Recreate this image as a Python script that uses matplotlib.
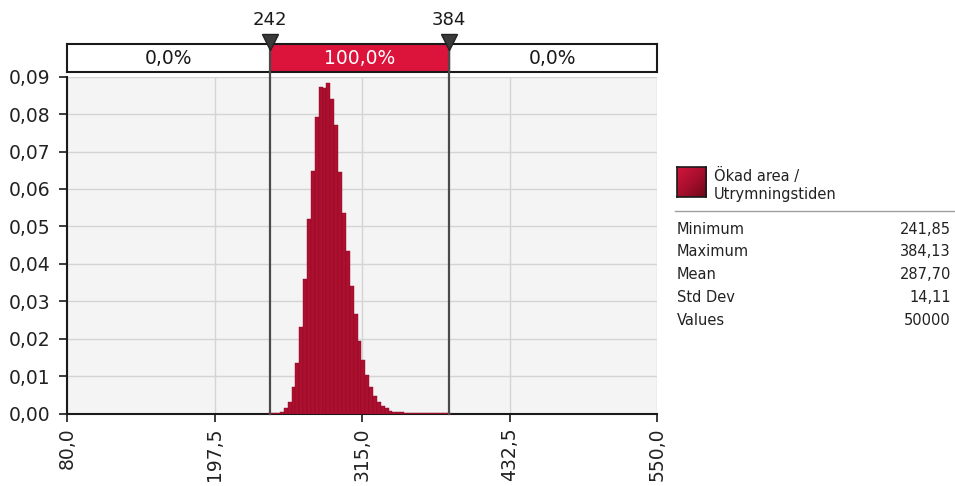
import numpy as np
import matplotlib
matplotlib.use("Agg")
import matplotlib.pyplot as plt
from matplotlib.lines import Line2D
from matplotlib.transforms import blended_transform_factory
from matplotlib.colors import LinearSegmentedColormap

plt.rcParams['font.family'] = ['DejaVu Sans']

# ---- data -------------------------------------------------------------
series_name = "Ökad area /\nUtrymningstiden"
stat_min = 241.85
stat_max = 384.13
stat_names = ["Minimum", "Maximum", "Mean", "Std Dev", "Values"]
stat_values = ["241,85", "384,13", "287,70", "14,11", "50000"]

# probability per bin (bins centred from min to max)
bin_probs = [
    0.00003, 0.0001, 0.0002, 0.0005, 0.0014, 0.0030, 0.0070, 0.0136,
    0.0230, 0.0359, 0.0521, 0.0649, 0.0792, 0.0872, 0.0870, 0.0883,
    0.0841, 0.0771, 0.0645, 0.0536, 0.0433, 0.0340, 0.0266, 0.0195,
    0.0142, 0.0103, 0.0072, 0.0047, 0.0032, 0.0020, 0.0014, 0.0008,
    0.0005, 0.0004, 0.0003, 0.0002, 0.0002, 0.0001, 0.0001, 0.0001,
    0.0001, 0.00005, 0.00005, 0.00003, 0.00003, 0.00002, 0.00002,
]

x_ticks = [80.0, 197.5, 315.0, 432.5, 550.0]
x_tick_labels = ["80,0", "197,5", "315,0", "432,5", "550,0"]
y_ticks = [0.00, 0.01, 0.02, 0.03, 0.04, 0.05, 0.06, 0.07, 0.08, 0.09]
y_tick_labels = ["0,00", "0,01", "0,02", "0,03", "0,04", "0,05",
                 "0,06", "0,07", "0,08", "0,09"]

marker_values = [242, 384]
marker_labels = ["242", "384"]
band_labels = ["0,0%", "100,0%", "0,0%"]

# ---- layout helpers (pixel -> figure fraction) -------------------------
W, H = 955, 486
fig = plt.figure(figsize=(W / 100, H / 100), dpi=100)
fig.patch.set_facecolor("white")


def fx(px):
    return px / W


def fy(py):
    return 1 - py / H


AX_L, AX_R, AX_T, AX_B = 67, 657, 76.7, 413.5
ax = fig.add_axes([fx(AX_L), fy(AX_B), fx(AX_R) - fx(AX_L), fy(AX_T) - fy(AX_B)])
ax.set_facecolor("#f4f4f4")

centers = np.linspace(stat_min, stat_max, len(bin_probs))
bin_w = centers[1] - centers[0]
ax.bar(centers, bin_probs, width=bin_w, color="#ad0f2e",
       edgecolor="#8a0c26", linewidth=0.3, zorder=3)

ax.set_xlim(x_ticks[0], x_ticks[-1])
ax.set_ylim(0, 0.09)
ax.set_xticks(x_ticks)
ax.set_xticklabels(x_tick_labels, rotation=90)
ax.set_yticks(y_ticks)
ax.set_yticklabels(y_tick_labels)
ax.grid(color="#d4d4d4", linewidth=1.0, zorder=0)
ax.set_axisbelow(True)
for s in ["top", "right"]:
    ax.spines[s].set_visible(False)
for s in ["left", "bottom"]:
    ax.spines[s].set_color("#1a1a1a")
    ax.spines[s].set_linewidth(1.5)
ax.tick_params(axis="both", direction="out", length=6, width=1.2,
               colors="#1a1a1a", labelsize=13.5, labelcolor="#222222")
ax.tick_params(axis="y", pad=6)
ax.tick_params(axis="x", pad=4)

# ---- percentage band above the plot -------------------------------------
BAND_T, BAND_B = 44, 72
bax = fig.add_axes([fx(AX_L), fy(BAND_B), fx(AX_R) - fx(AX_L), fy(BAND_T) - fy(BAND_B)])
bax.set_xlim(x_ticks[0], x_ticks[-1])
bax.set_ylim(0, 1)
bax.set_facecolor("white")
bax.axvspan(marker_values[0], marker_values[1], color="#dc143c", zorder=1)
bax.set_xticks([])
bax.set_yticks([])
for s in bax.spines.values():
    s.set_color("#1a1a1a")
    s.set_linewidth(1.5)
edges = [x_ticks[0]] + marker_values + [x_ticks[-1]]
for i, lab in enumerate(band_labels):
    mid = (edges[i] + edges[i + 1]) / 2
    col = "white" if i == 1 else "#1a1a1a"
    bax.text(mid, 0.5, lab, ha="center", va="center", fontsize=13.5, color=col)

# delimiter lines, triangles and their labels
trans = blended_transform_factory(ax.transData, fig.transFigure)
for v, lab in zip(marker_values, marker_labels):
    fig.add_artist(Line2D([v, v], [fy(AX_B), fy(BAND_T)], transform=trans,
                          color="#4a4a4a", linewidth=1.6, zorder=5))
    fig.add_artist(Line2D([v], [fy(42)], transform=trans, marker="v",
                          markersize=12, color="#3a3a3a",
                          markeredgecolor="#222222", zorder=6))
    fig.text(v, fy(20), lab, transform=trans, ha="center", va="center",
             fontsize=13, color="#1a1a1a")

# ---- legend and statistics ---------------------------------------------
sax = fig.add_axes([fx(677), fy(197), fx(706) - fx(677), fy(167) - fy(197)])
grad = np.add.outer(np.linspace(0, 1, 60), np.linspace(0, 1, 60))
cmap = LinearSegmentedColormap.from_list("swatch", ["#d2163c", "#a80f2d", "#6a0818"])
sax.imshow(grad, cmap=cmap, aspect="auto")
sax.set_xticks([])
sax.set_yticks([])
for s in sax.spines.values():
    s.set_color("#1a1a1a")
    s.set_linewidth(1.2)

fig.text(fx(714), fy(176), "Ökad area /", fontsize=10.5, va="center", color="#222222")
fig.text(fx(714), fy(194), "Utrymningstiden", fontsize=10.5, va="center", color="#222222")
fig.add_artist(Line2D([fx(675), fx(955)], [fy(211), fy(211)], color="#a0a0a0",
                      linewidth=1.0))

row_y = [229, 251.5, 274.5, 297.5, 320.5]
for name, val, yy in zip(stat_names, stat_values, row_y):
    fig.text(fx(677), fy(yy), name, fontsize=10.5, va="center", color="#222222")
    fig.text(fx(951), fy(yy), val, fontsize=10.5, va="center", ha="right",
             color="#222222")

fig.savefig("out.png", dpi=100)
